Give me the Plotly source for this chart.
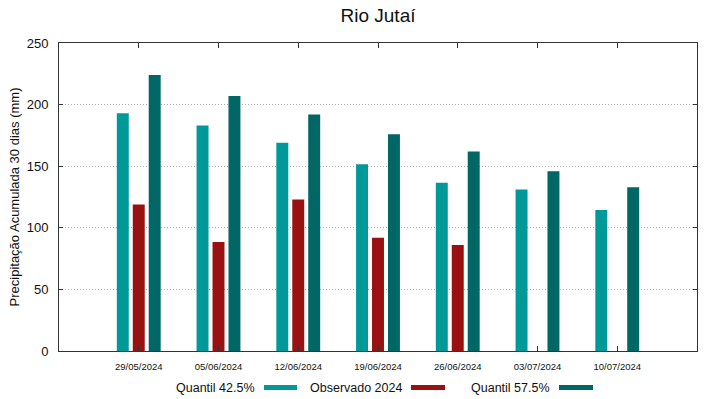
import plotly.graph_objects as go

categories = ["29/05/2024", "05/06/2024", "12/06/2024", "19/06/2024",
              "26/06/2024", "03/07/2024", "10/07/2024"]
quantil_425 = [193, 183, 169, 151.5, 136.5, 131, 114.5]
observado_2024 = [119, 88.5, 123, 92, 86, None, None]
quantil_575 = [224, 207, 192, 176, 162, 146, 133]
series_names = ["Quantil 42.5%", "Observado 2024", "Quantil 57.5%"]
series_colors = ["#009999", "#991111", "#006666"]
y_ticks = [0, 50, 100, 150, 200, 250]

W, H = 719, 399
ML, MR, MT, MB = 59, 22, 43, 48
PW, PH = W - ML - MR, H - MT - MB

FONT = "Liberation Sans, Arial, sans-serif"

fig = go.Figure()
for name, vals, col in zip(series_names, [quantil_425, observado_2024, quantil_575], series_colors):
    fig.add_trace(go.Bar(x=categories, y=vals, name=name, marker_color=col,
                         marker_line_width=0, showlegend=False))

def px_x(p):
    return (p - ML) / PW

def px_y(p):
    return (H - MB - p) / PH

# custom legend: text followed by swatch
legend_items = [(256.5, 264, 297), (403.5, 411, 445), (552, 559, 593)]
ly = 387.5
for (tr, s0, s1), name, col in zip(legend_items, series_names, series_colors):
    fig.add_annotation(x=px_x(tr), y=px_y(ly), xref="paper", yref="paper",
                       text=name, showarrow=False, xanchor="right", yanchor="middle",
                       font=dict(family=FONT, size=12.5, color="#111111"))
    fig.add_shape(type="rect", xref="paper", yref="paper",
                  x0=px_x(s0), x1=px_x(s1), y0=px_y(ly + 2.5), y1=px_y(ly - 2.5),
                  fillcolor=col, line_width=0)

fig.update_layout(
    width=W, height=H,
    margin=dict(l=ML, r=MR, t=MT, b=MB),
    paper_bgcolor="white", plot_bgcolor="white",
    barmode="group", bargap=0.4, bargroupgap=0.25,
    title=dict(text="Rio Jutaí", x=0.5 * (ML + W - MR) / W, xanchor="center",
               y=1 - 15.5 / H, yanchor="middle",
               font=dict(family=FONT, size=19, color="#111111")),
    font=dict(family=FONT, color="#111111"),
)
fig.update_xaxes(type="category", range=[-1, len(categories)],
                 showline=True, linecolor="#333333", linewidth=1, mirror="ticks",
                 ticks="inside", ticklen=5, tickcolor="#333333",
                 showgrid=False, tickfont=dict(family=FONT, size=9.5, color="#111111"),
                 ticklabelstandoff=7)
fig.update_yaxes(range=[0, 250], tickvals=y_ticks,
                 showline=True, linecolor="#333333", linewidth=1, mirror="ticks",
                 ticks="inside", ticklen=4, tickcolor="#333333",
                 showgrid=True, gridcolor="#b0b0b0", griddash="1px,2px", gridwidth=1,
                 zeroline=False,
                 tickfont=dict(family=FONT, size=13, color="#111111"),
                 ticklabelstandoff=7,
                 title=dict(text="Precipitação Acumulada 30 dias (mm)",
                            font=dict(family=FONT, size=13, color="#111111"),
                            standoff=4))

fig.write_html("out.html", config={"displayModeBar": False},
               post_script="document.body.style.margin='0px';")
